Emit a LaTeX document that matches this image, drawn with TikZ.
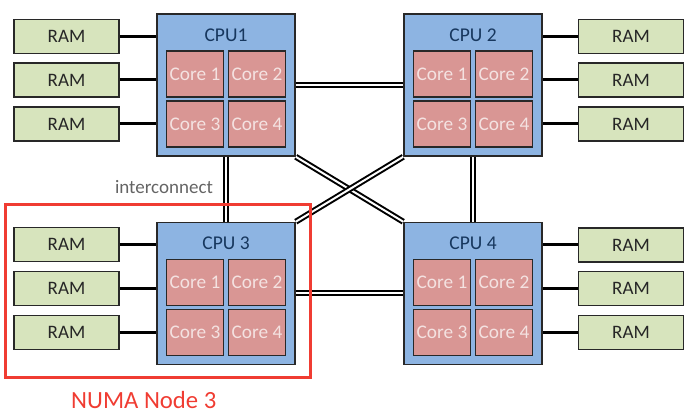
\documentclass[tikz,border=0pt]{standalone}
\usepackage{fontspec}
\setmainfont{Carlito}
\definecolor{cpufill}{RGB}{141,180,226}
\definecolor{corefill}{RGB}{217,150,148}
\definecolor{coretext}{RGB}{244,226,225}
\definecolor{ramfill}{RGB}{215,228,189}
\definecolor{cputext}{RGB}{23,55,94}
\definecolor{ramtext}{RGB}{38,38,38}
\definecolor{boxline}{RGB}{40,40,40}
\definecolor{numared}{RGB}{240,60,50}
\definecolor{icgray}{RGB}{100,100,100}
\tikzset{
  cpubox/.style={draw=boxline, line width=1.6pt, fill=cpufill, minimum width=138pt, minimum height=142pt, inner sep=0pt},
  corebox/.style={draw=boxline, line width=1.4pt, fill=corefill, minimum width=57pt, minimum height=46pt, inner sep=0pt, text=coretext, font=\fontsize{19.3}{20}\selectfont},
  cputitle/.style={text=cputext, font=\fontsize{19.5}{20}\selectfont, inner sep=0pt},
  rambox/.style={draw=boxline, line width=1.4pt, fill=ramfill, minimum width=105pt, minimum height=34pt, inner sep=0pt, text=ramtext, font=\fontsize{19}{20}\selectfont},
  ramlink/.style={line width=3pt, black},
  bus/.style={draw=black, line width=2pt, double=white, double distance=2pt},
  pics/cpu/.style={code={
    \node[cpubox] (-box) at (0,0) {};
    \node[cputitle] (-title) at (0,-50) {#1};
    \node[corebox] (-k1) at (-31,-11) {Core 1};
    \node[corebox] (-k2) at (31,-11) {Core 2};
    \node[corebox] (-k3) at (-31,39) {Core 3};
    \node[corebox] (-k4) at (31,39) {Core 4};
  }}
}
\begin{document}
\begin{tikzpicture}[x=1pt,y=-1pt]
\useasboundingbox (0,0) rectangle (686,414);
\pic (c1) at (226,85) {cpu={CPU1}};
\pic (c2) at (473,85) {cpu={CPU 2}};
\pic (c3) at (226,293.5) {cpu={CPU 3}};
\pic (c4) at (473,293.5) {cpu={CPU 4}};
% interconnects
\draw[bus] (c1-box.east) -- (c2-box.west);
\draw[bus] (c3-box.east) -- (c4-box.west);
\draw[bus] (c1-box.south) -- (c3-box.north);
\draw[bus] (c2-box.south) -- (c4-box.north);
\draw[bus] (c1-box.south east) -- (c4-box.north west);
\draw[bus] (c2-box.south west) -- (c3-box.north east);
% RAM left
\node[rambox] (r11) at (66.5,36.5) {RAM};
\node[rambox] (r12) at (66.5,80) {RAM};
\node[rambox] (r13) at (66.5,124) {RAM};
\node[rambox] (r31) at (66.5,244.5) {RAM};
\node[rambox] (r32) at (66.5,288.5) {RAM};
\node[rambox] (r33) at (66.5,332.5) {RAM};
% RAM right
\node[rambox] (r21) at (631,36.5) {RAM};
\node[rambox] (r22) at (631,80) {RAM};
\node[rambox] (r23) at (631,124) {RAM};
\node[rambox] (r41) at (631,245) {RAM};
\node[rambox] (r42) at (631,288.5) {RAM};
\node[rambox] (r43) at (631,332.5) {RAM};
\foreach \r/\c in {r11/c1,r12/c1,r13/c1,r31/c3,r32/c3,r33/c3}{
  \draw[ramlink] (\r.east) -- (\r.east -| \c-box.west);
}
\foreach \r/\c in {r21/c2,r22/c2,r23/c2,r41/c4,r42/c4,r43/c4}{
  \draw[ramlink] (\r.west) -- (\r.west -| \c-box.east);
}
\node[text=icgray, font=\fontsize{19}{20}\selectfont, inner sep=0pt] (ic) at (164,187) {interconnect};
\node[draw=numared, line width=3pt, minimum width=305pt, minimum height=172pt, inner sep=0pt] (numa) at (157.5,291) {};
\node[text=numared, font=\fontsize{24.7}{26}\selectfont, inner sep=0pt, anchor=west] (numalabel) at (71,400) {NUMA Node 3};
\end{tikzpicture}
\end{document}
